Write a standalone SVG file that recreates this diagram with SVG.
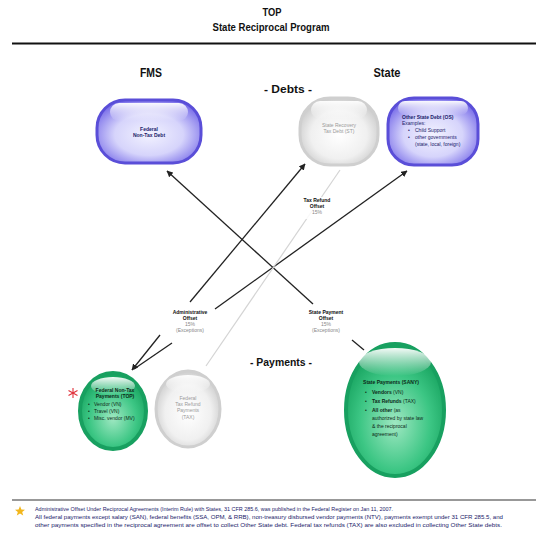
<svg xmlns="http://www.w3.org/2000/svg" width="536" height="534" viewBox="0 0 536 534">
<defs>
<radialGradient id="gPurple" cx="50%" cy="55%" r="60%">
<stop offset="0" stop-color="#f2f2ff"/><stop offset="0.55" stop-color="#d6d4fb"/><stop offset="1" stop-color="#7468e8"/>
</radialGradient>
<radialGradient id="gGrey" cx="50%" cy="55%" r="60%">
<stop offset="0" stop-color="#ffffff"/><stop offset="0.6" stop-color="#f0f0f0"/><stop offset="1" stop-color="#c4c4c4"/>
</radialGradient>
<radialGradient id="gGreen" cx="50%" cy="60%" r="60%">
<stop offset="0" stop-color="#9fe8c2"/><stop offset="0.6" stop-color="#3cc684"/><stop offset="1" stop-color="#14a05c"/>
</radialGradient>
<linearGradient id="gHi" x1="0" y1="0" x2="0" y2="1">
<stop offset="0" stop-color="#ffffff" stop-opacity="0.95"/><stop offset="1" stop-color="#ffffff" stop-opacity="0"/>
</linearGradient>
<marker id="arr" viewBox="0 0 10 10" refX="9" refY="5" markerWidth="5" markerHeight="5" orient="auto">
<path d="M0,0 L10,5 L0,10 z" fill="#222"/>
</marker>
<style>
text{font-family:"Liberation Sans",Arial,sans-serif}
.h{font-weight:bold;fill:#111;text-anchor:middle}
.lbl{font-size:5px;font-weight:bold;fill:#111;text-anchor:middle}
.lblg{font-size:5px;fill:#888;text-anchor:middle}
.conn{stroke:#222;stroke-width:1.3;fill:none}
.purple{fill:url(#gPurple);stroke:#5a4ed8;stroke-width:3}
.grey{fill:url(#gGrey);stroke:#cfcfcf;stroke-width:3}
.green{fill:url(#gGreen);stroke:#18a060;stroke-width:4}
.t5{font-size:5px;fill:#1a1a6a}
.tg{font-size:5px;fill:#9a9a9a;text-anchor:middle}
.tk{font-size:5px;fill:#0d2a18}
.foot{font-size:5.3px;fill:#1a1a6a}
</style>
</defs>
<rect width="536" height="534" fill="#fff"/>

<g id="title">
<text class="h" x="272" y="16" font-size="10" textLength="19" lengthAdjust="spacingAndGlyphs">TOP</text>
<text class="h" x="271" y="31" font-size="10" textLength="117" lengthAdjust="spacingAndGlyphs">State Reciprocal Program</text>
<line x1="12" y1="43.5" x2="536" y2="43.5" stroke="#111" stroke-width="2"/>
</g>

<g id="headers">
<text class="h" x="151" y="77" font-size="12" textLength="22" lengthAdjust="spacingAndGlyphs">FMS</text>
<text class="h" x="387" y="77" font-size="12" textLength="27" lengthAdjust="spacingAndGlyphs">State</text>
<text class="h" x="288" y="93" font-size="10" textLength="48" lengthAdjust="spacingAndGlyphs">- Debts -</text>
<text class="h" x="281" y="366" font-size="11" textLength="62" lengthAdjust="spacingAndGlyphs">- Payments -</text>
</g>

<g id="connectors">
<line class="conn" x1="313" y1="304" x2="167" y2="171" marker-end="url(#arr)"/>
<line class="conn" x1="352" y1="340" x2="364" y2="350"/>
<line class="conn" x1="190" y1="302" x2="305" y2="164" marker-end="url(#arr)"/>
<line class="conn" x1="215" y1="309" x2="407" y2="171" marker-end="url(#arr)"/>
<line class="conn" x1="160" y1="335" x2="132" y2="370" marker-end="url(#arr)"/>
<line class="conn" x1="172" y1="343" x2="134" y2="369"/>
<line x1="340" y1="170" x2="206" y2="366" stroke="#d4d4d4" stroke-width="1.2"/>
<rect x="303" y="197" width="28" height="22" fill="#fff" opacity="0.85"/>
<text class="lbl" x="317" y="202">Tax Refund</text>
<text class="lbl" x="317" y="208">Offset</text>
<text class="lblg" x="317" y="214">15%</text>
<text class="lbl" x="190" y="314">Administrative</text>
<text class="lbl" x="190" y="320">Offset</text>
<text class="lblg" x="190" y="326">15%</text>
<text class="lblg" x="190" y="332">(Exceptions)</text>
<text class="lbl" x="326" y="314">State Payment</text>
<text class="lbl" x="326" y="320">Offset</text>
<text class="lblg" x="326" y="326">15%</text>
<text class="lblg" x="326" y="332">(Exceptions)</text>
</g>

<g id="federal-debt">
<rect class="purple" x="97" y="100" width="104" height="63" rx="28"/>
<rect x="110" y="103" width="78" height="18" rx="9" fill="url(#gHi)"/>
<text class="t5" x="149" y="131" text-anchor="middle" font-weight="bold">Federal</text>
<text class="t5" x="149" y="137" text-anchor="middle" font-weight="bold">Non-Tax Debt</text>
</g>

<g id="state-recovery">
<rect class="grey" x="300" y="98" width="78" height="67" rx="30"/>
<rect x="311" y="101" width="56" height="18" rx="9" fill="url(#gHi)"/>
<text class="tg" x="339" y="127">State Recovery</text>
<text class="tg" x="339" y="133">Tax Debt (ST)</text>
</g>

<g id="other-state">
<rect class="purple" x="388" y="98" width="90" height="67" rx="26"/>
<rect x="398" y="101" width="70" height="14" rx="7" fill="url(#gHi)"/>
<text class="t5" x="402" y="119" font-weight="bold">Other State Debt (OS)</text>
<text class="t5" x="402" y="125">Examples:</text>
<text class="t5" x="408" y="132">•</text><text class="t5" x="415" y="132">Child Support</text>
<text class="t5" x="408" y="139">•</text><text class="t5" x="415" y="139">other governments</text>
<text class="t5" x="415" y="146">(state, local, foreign)</text>
</g>

<g id="fms-payments">
<ellipse class="green" cx="113" cy="411" rx="33" ry="38"/>
<ellipse cx="113" cy="386" rx="22" ry="9" fill="url(#gHi)"/>
<text class="tk" x="115" y="392" text-anchor="middle" font-weight="bold">Federal Non-Tax</text>
<text class="tk" x="115" y="398" text-anchor="middle" font-weight="bold">Payments (TOP)</text>
<text class="tk" x="88" y="406">•</text><text class="tk" x="94" y="406">Vendor (VN)</text>
<text class="tk" x="88" y="413">•</text><text class="tk" x="94" y="413">Travel (VN)</text>
<text class="tk" x="88" y="420">•</text><text class="tk" x="94" y="420">Misc. vendor (MV)</text>
<g stroke="#e0303a" stroke-width="1.1">
<line x1="73" y1="388" x2="73" y2="398"/>
<line x1="68.5" y1="390.5" x2="77.5" y2="395.5"/>
<line x1="68.5" y1="395.5" x2="77.5" y2="390.5"/>
</g>
</g>

<g id="tax-refund-payments">
<ellipse class="grey" cx="188" cy="409" rx="32" ry="38"/>
<ellipse cx="188" cy="384" rx="22" ry="9" fill="url(#gHi)"/>
<text class="tg" x="188" y="400">Federal</text>
<text class="tg" x="188" y="406">Tax Refund</text>
<text class="tg" x="188" y="412">Payments</text>
<text class="tg" x="188" y="419">(TAX)</text>
</g>

<g id="state-payments">
<ellipse class="green" cx="395" cy="410" rx="49" ry="66"/>
<ellipse cx="395" cy="362" rx="36" ry="14" fill="url(#gHi)"/>
<text class="tk" x="391" y="384" text-anchor="middle" font-size="6" font-weight="bold">State Payments (SANY)</text>
<text class="tk" x="365" y="394">•</text><text class="tk" x="372" y="394" font-size="5.5"><tspan font-weight="bold">Vendors</tspan> (VN)</text>
<text class="tk" x="365" y="403">•</text><text class="tk" x="372" y="403" font-size="5.5"><tspan font-weight="bold">Tax Refunds</tspan> (TAX)</text>
<text class="tk" x="365" y="412">•</text><text class="tk" x="372" y="412" font-size="5.5"><tspan font-weight="bold">All other</tspan> (as</text>
<text class="tk" x="372" y="420" font-size="5.5">authorized by state law</text>
<text class="tk" x="372" y="428" font-size="5.5">&amp; the reciprocal</text>
<text class="tk" x="372" y="436" font-size="5.5">agreement)</text>
</g>

<g id="footer">
<line x1="12" y1="500" x2="536" y2="500" stroke="#333" stroke-width="1.2"/>
<polygon points="20,506 21.4,509.6 25,509.8 22.2,512 23.2,515.6 20,513.5 16.8,515.6 17.8,512 15,509.8 18.6,509.6" fill="#f2b61c"/>
<text class="foot" x="35" y="511" textLength="358" lengthAdjust="spacingAndGlyphs">Administrative Offset Under Reciprocal Agreements (Interim Rule) with States, 31 CFR 285.6, was published in the Federal Register on Jan 11, 2007.</text>
<text class="foot" x="35" y="519" textLength="468" lengthAdjust="spacingAndGlyphs">All federal payments except salary (SAN), federal benefits (SSA, OPM, &amp; RRB), non-treasury disbursed vendor payments (NTV), payments exempt under 31 CFR 285.5, and</text>
<text class="foot" x="35" y="527" textLength="467" lengthAdjust="spacingAndGlyphs">other payments specified in the reciprocal agreement are offset to collect Other State debt. Federal tax refunds (TAX) are also excluded in collecting Other State debts.</text>
</g>
</svg>
